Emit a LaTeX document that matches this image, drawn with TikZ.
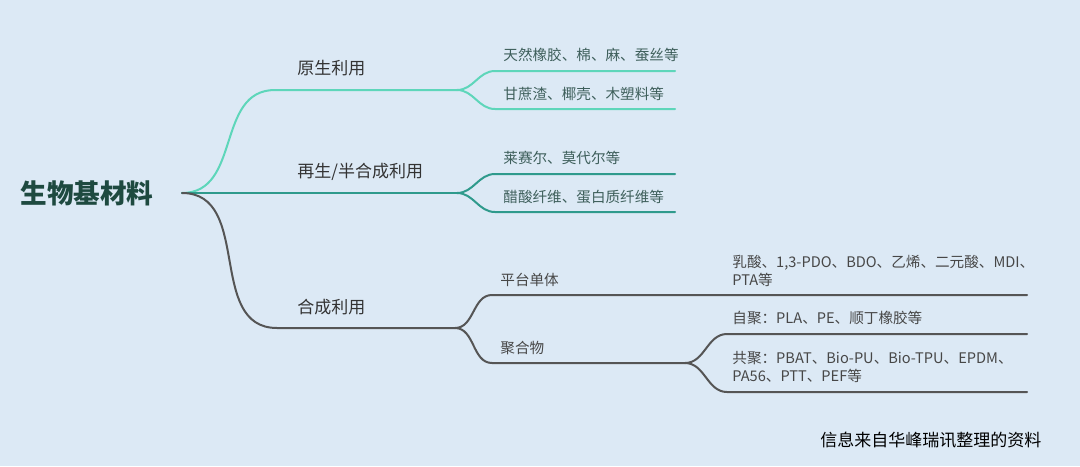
\documentclass[tikz,border=0pt]{standalone}
\usepackage{fontspec}
\setmainfont{Noto Sans CJK SC}
\usepackage{tikz}
\usetikzlibrary{calc}
\definecolor{bgblue}{HTML}{DCE9F5}
\definecolor{tealA}{HTML}{5ED6BA}
\definecolor{tealB}{HTML}{2F9A8C}
\definecolor{greyC}{HTML}{555555}
\definecolor{rootgreen}{HTML}{1E4A40}
\definecolor{leafteal}{HTML}{3E5F5B}

\begin{document}
\begin{tikzpicture}[x=0.5pt,y=-0.5pt,
    br/.style={line width=1pt,line cap=round},
    lbl/.style={anchor=west,inner sep=0pt,text=black!80,font=\fontsize{8.5}{10}\selectfont},
    leaf/.style={anchor=west,inner sep=0pt,text=leafteal,font=\fontsize{7.3}{9}\selectfont,align=left},
    leafg/.style={leaf,text=black!72}]
    \fill[bgblue] (0,0) rectangle (1080,466);
    \useasboundingbox (0,0) rectangle (1080,466);
    % root
    \node[inner sep=0pt,text=rootgreen,font=\fontsize{13.3}{16}\selectfont\bfseries] (root) at (87,193) {生物基材料};
    \coordinate (r) at (182,193);
    % first level
    \coordinate (c1) at (275,90);
    \coordinate (f1) at (457,90);
    \coordinate (f2) at (457,193);
    \coordinate (c3) at (277,328);
    \coordinate (f3) at (455,328);
    \node[lbl] (b1) at (297,68) {原生利用};
    \node[lbl] (b2) at (297,172) {再生/半合成利用};
    \node[lbl] (b3) at (297,307) {合成利用};
    \draw[br,tealA] (r) to[out=0,in=180,looseness=1.1] (c1) -- (f1);
    \draw[br,tealB] (r) -- (f2);
    \draw[br,greyC] (r) to[out=0,in=180,looseness=1.1] (c3) -- (f3);
    % leaves of the first branch
    \coordinate (s11) at (495,71);  \coordinate (e11) at (675,71);
    \coordinate (s12) at (495,109); \coordinate (e12) at (675,109);
    \node[leaf] (l11) at (503,55) {天然橡胶、棉、麻、蚕丝等};
    \node[leaf] (l12) at (503,94) {甘蔗渣、椰壳、木塑料等};
    \draw[br,tealA] (f1) to[out=0,in=180] (s11) -- (e11);
    \draw[br,tealA] (f1) to[out=0,in=180] (s12) -- (e12);
    % leaves of the second branch
    \coordinate (s21) at (495,174); \coordinate (e21) at (675,174);
    \coordinate (s22) at (495,212); \coordinate (e22) at (675,212);
    \node[leaf] (l21) at (503,158) {莱赛尔、莫代尔等};
    \node[leaf] (l22) at (503,197) {醋酸纤维、蛋白质纤维等};
    \draw[br,tealB] (f2) to[out=0,in=180] (s21) -- (e21);
    \draw[br,tealB] (f2) to[out=0,in=180] (s22) -- (e22);
    % third branch
    \coordinate (s31) at (492,295); \coordinate (e31) at (1027,295);
    \coordinate (s32) at (492,363); \coordinate (f32) at (685,363);
    \node[leafg] (b31) at (500,280) {平台单体};
    \node[leafg] (b32) at (500,348) {聚合物};
    \draw[br,greyC] (f3) to[out=0,in=180] (s31) -- (e31);
    \draw[br,greyC] (f3) to[out=0,in=180] (s32) -- (f32);
    \node[leafg] (l31) at (732,271) {乳酸、1,3-PDO、BDO、乙烯、二元酸、MDI、\\PTA等};
    \coordinate (s321) at (727,334); \coordinate (e321) at (1027,334);
    \coordinate (s322) at (727,392); \coordinate (e322) at (1027,392);
    \node[leafg] (l321) at (732,318) {自聚：PLA、PE、顺丁橡胶等};
    \node[leafg] (l322) at (732,367) {共聚：PBAT、Bio-PU、Bio-TPU、EPDM、\\PA56、PTT、PEF等};
    \draw[br,greyC] (f32) to[out=0,in=180] (s321) -- (e321);
    \draw[br,greyC] (f32) to[out=0,in=180] (s322) -- (e322);
    % source
    \node[anchor=west,inner sep=0pt,font=\fontsize{8.5}{10}\selectfont] (src) at (820,440) {信息来自华峰瑞讯整理的资料};
\end{tikzpicture}
\end{document}
